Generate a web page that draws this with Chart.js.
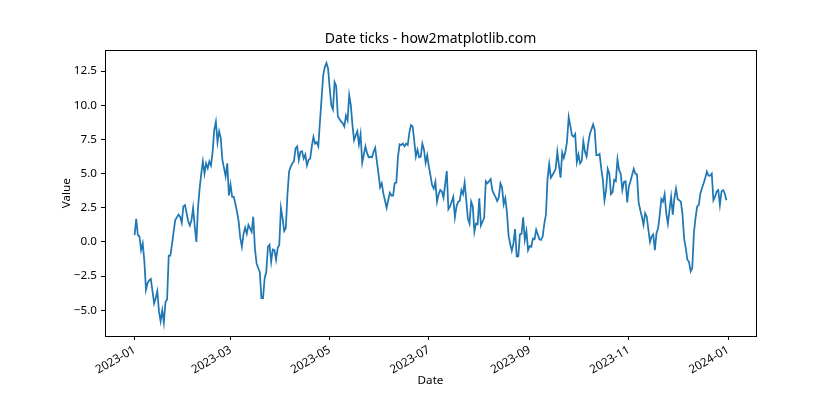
<!DOCTYPE html>
<html>
<head>
<meta charset="utf-8">
<script src="https://cdn.jsdelivr.net/npm/chart.js@4/dist/chart.umd.min.js"></script>
<style>
  html, body { margin: 0; padding: 0; background: #fff; }
  #wrap { width: 840px; height: 420px; }
</style>
</head>
<body>
<div id="wrap"><canvas id="c" width="840" height="420"></canvas></div>
<script>
// ---- data (one per day, 2023-01-01 .. 2023-12-31)
const jan = [0.5,1.7,0.5,0.4,-0.6,-0.1,-1.4,-3.5,-3.0,-2.8,-2.7,-3.6,-4.5,-4.1,-3.6,-5.1,-5.8,-5.0,-5.9,-4.4,-4.2,-1.0,-1.0,-0.2,0.75,1.6,1.8,2.0,1.85,1.4,2.6];
const feb = [2.7,2.1,1.5,1.2,1.6,2.5,1.1,0.0,2.5,3.9,5.0,5.9,5.0,5.75,5.4,5.9,5.6,6.6,8.2,8.8,7.3,8.1,7.6,6.0,5.4,4.8,5.75,3.4];
const mar = [4.2,3.3,3.3,2.8,2.2,1.5,0.3,-0.35,0.6,1.05,0.6,1.25,1.0,0.75,1.85,-0.45,-1.55,-1.9,-2.2,-4.1,-4.1,-2.65,-2.2,-0.35,-0.2,-1.45,-0.55,-0.6,-1.3,-0.45,-0.2];
const apr = [2.5,1.75,0.8,1.0,3.45,5.15,5.5,5.75,5.9,6.85,7.0,6.0,6.6,6.65,6.1,6.4,5.6,6.0,6.1,7.0,7.7,7.2,7.3,7.0,8.8,10.5,12.2,12.8,13.1,12.7];
const may = [11.25,10.0,9.7,11.7,11.4,9.2,9.0,8.8,8.7,8.45,9.25,8.9,10.75,10.0,8.55,7.45,7.8,8.1,7.15,7.9,5.8,6.4,7.0,6.5,6.2,6.25,6.2,6.6,6.9,5.9,5.0];
const jun = [4.0,4.3,3.55,3.05,2.5,3.05,3.6,3.4,3.4,4.3,4.35,6.25,7.15,7.1,7.2,7.0,7.2,7.1,8.0,8.55,8.45,7.4,6.25,6.75,6.2,6.25,7.2,6.75,5.8,6.35];
const jul = [5.5,4.85,4.15,3.9,4.4,2.95,3.5,3.8,3.7,3.25,4.2,5.2,2.4,2.6,2.95,3.3,1.8,2.6,2.95,3.0,3.8,3.5,4.35,3.05,1.7,1.35,2.95,2.6,0.75,1.35,1.3];
const aug = [3.2,1.2,1.5,1.75,4.45,4.3,4.45,4.6,3.8,3.5,3.3,3.0,3.25,4.3,4.0,2.75,3.2,2.2,0.5,-0.15,-0.65,-0.1,0.95,-1.05,-1.05,0.55,0.6,1.8,0.15,0.8,-0.6];
const sep = [-0.3,-0.35,0.25,0.2,0.9,0.55,0.2,0.15,0.4,1.35,2.0,4.65,5.7,4.7,4.9,5.1,5.35,6.6,5.6,4.7,6.55,6.15,6.6,7.4,9.15,8.5,7.8,7.7,7.9,5.85];
const oct = [6.4,5.75,5.95,7.35,6.6,6.25,7.2,7.9,8.25,8.6,8.2,6.35,6.35,6.45,5.4,4.55,3.05,3.8,5.35,5.0,3.5,3.65,4.55,4.45,6.05,5.25,5.0,3.8,4.4,4.45,2.9];
const nov = [4.05,4.45,4.9,5.35,5.0,4.95,2.9,2.35,1.85,1.25,2.1,1.85,0.9,0.0,0.4,0.55,-0.6,0.65,1.0,2.0,3.15,2.95,3.5,2.1,1.35,2.35,3.3,2.0,3.2,3.9];
const dec = [3.15,3.05,2.95,2.0,0.25,-0.45,-1.3,-1.45,-2.15,-1.9,0.65,1.75,2.6,2.7,3.55,3.95,4.3,4.7,5.15,4.85,4.85,5.0,3.05,3.3,3.7,3.8,2.7,3.7,3.8,3.55,3.05];

// x ticks: day offset from 2023-01-01 and their labels
const tickDays = [0, 59, 120, 181, 243, 304, 365];
const tickLabels = ['2023-01', '2023-03', '2023-05', '2023-07', '2023-09', '2023-11', '2024-01'];
const yTicks = [-5, -2.5, 0, 2.5, 5, 7.5, 10, 12.5];
const yTickLabels = ['\u22125.0', '\u22122.5', '0.0', '2.5', '5.0', '7.5', '10.0', '12.5'];
const chartTitle = 'Date ticks - how2matplotlib.com';

const values = [].concat(jan, feb, mar, apr, may, jun, jul, aug, sep, oct, nov, dec);
const points = values.map((v, i) => ({ x: i, y: v }));

const FONT = "'Noto Sans', 'DejaVu Sans', sans-serif";
Chart.defaults.font.family = FONT;
Chart.defaults.color = '#000';

const framePlugin = {
  id: 'frame',
  afterDatasetsDraw(chart) {
    const { ctx, chartArea: a } = chart;
    ctx.save();
    ctx.strokeStyle = '#000';
    ctx.lineWidth = 1;
    ctx.strokeRect(Math.round(a.left) + 0.5, Math.round(a.top) + 0.5,
                   Math.round(a.right - a.left), Math.round(a.bottom - a.top));
    // title centred over the axes, like matplotlib
    ctx.fillStyle = '#000';
    ctx.font = '14px ' + FONT;
    ctx.textAlign = 'center';
    ctx.textBaseline = 'alphabetic';
    ctx.fillText(chartTitle, (a.left + a.right) / 2, a.top - 7);
    ctx.restore();
  }
};

new Chart(document.getElementById('c'), {
  type: 'line',
  data: {
    datasets: [{
      data: points,
      borderColor: '#1f77b4',
      borderWidth: 1.75,
      pointRadius: 0,
      tension: 0,
      fill: false
    }]
  },
  options: {
    responsive: false,
    animation: false,
    devicePixelRatio: 1,
    layout: { padding: { left: 0, right: 84, top: 50.4, bottom: 0 } },
    plugins: {
      legend: { display: false },
      tooltip: { enabled: false },
      title: { display: false }
    },
    scales: {
      x: {
        type: 'linear',
        min: -18.2,
        max: 382.2,
        afterBuildTicks: s => { s.ticks = tickDays.map(v => ({ value: v })); },
        afterFit: s => { s.height = 84; },
        ticks: {
          autoSkip: false,
          minRotation: 30,
          maxRotation: 30,
          padding: 3,
          color: '#000',
          font: { size: 11.67, family: FONT },
          callback: (v, i) => tickLabels[i]
        },
        grid: { display: true, drawOnChartArea: false, drawTicks: true, tickLength: 4, tickColor: '#000', tickWidth: 1 },
        border: { display: false },
        title: { display: true, text: 'Date', color: '#000', font: { size: 11.67, family: FONT }, padding: { top: 0, bottom: 32 } }
      },
      y: {
        type: 'linear',
        min: -6.88,
        max: 14.02,
        afterBuildTicks: s => { s.ticks = yTicks.map(v => ({ value: v })); },
        afterFit: s => { s.width = 105; },
        ticks: {
          padding: 4,
          color: '#000',
          font: { size: 11.67, family: FONT },
          callback: (v, i) => yTickLabels[i]
        },
        grid: { display: true, drawOnChartArea: false, drawTicks: true, tickLength: 4, tickColor: '#000', tickWidth: 1 },
        border: { display: false },
        title: { display: true, text: 'Value', color: '#000', font: { size: 11.67, family: FONT }, padding: { top: 60, bottom: 0 } }
      }
    }
  },
  plugins: [framePlugin]
});
</script>
</body>
</html>
